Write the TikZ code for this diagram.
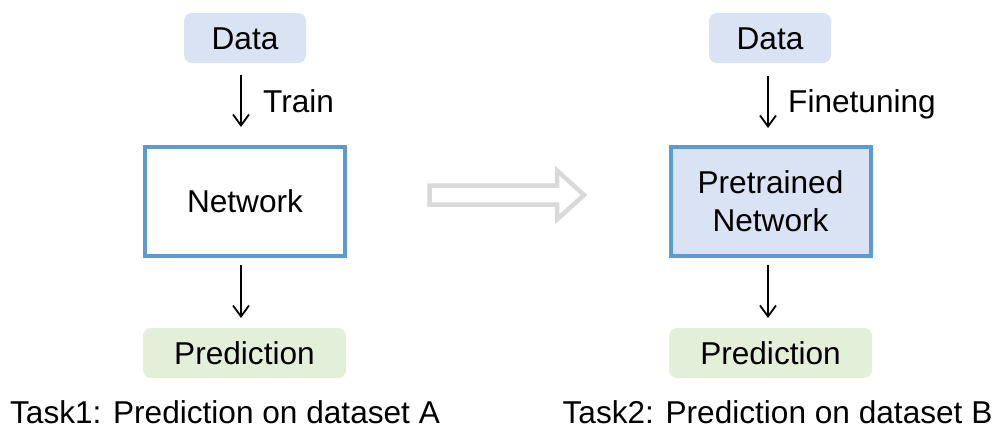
\documentclass[tikz,border=0pt]{standalone}
\usepackage{fontspec}
\setmainfont{Liberation Sans}
\usetikzlibrary{arrows.meta}
\definecolor{boxblue}{HTML}{DAE3F3}
\definecolor{boxgreen}{HTML}{E2F0D9}
\definecolor{edgeblue}{HTML}{5B9BD5}
\definecolor{hollowgray}{HTML}{D9D9D9}
\tikzset{
  txt/.style={font=\fontsize{31.6}{38}\selectfont, inner sep=0pt},
  databox/.style={txt, fill=boxblue, rounded corners=8pt, minimum width=122pt, minimum height=50pt, text height=22.6pt, text depth=0pt},
  predbox/.style={txt, fill=boxgreen, rounded corners=8pt, minimum width=203pt, minimum height=50pt, text height=22.6pt, text depth=0pt},
  netbox/.style={txt, draw=edgeblue, line width=4pt, minimum width=200pt, minimum height=109pt, align=center},
  flow/.style={-{Straight Barb[length=11pt,width=16pt,line width=1.8pt]}, line width=1.8pt, black},
}
\begin{document}
\begin{tikzpicture}[x=1pt,y=-1pt]
\useasboundingbox (0,0) rectangle (995,429);
% left column
\node[databox] (d1) at (245,38) {Data};
\node[netbox, text height=22.6pt, text depth=0pt] (n1) at (245,201.5) {Network};
\node[predbox] (p1) at (244.5,353) {Prediction};
\draw[flow] (241,75) -- (241,127) coordinate (a1e);
\node[txt, anchor=base west] (t1) at (263,112) {Train};
\draw[flow] (241,265) -- (241,318);
\node[txt, anchor=base] (c1) at (225,423.5) {Task1: Prediction on dataset A};
% right column
\node[databox] (d2) at (770,38) {Data};
\node[netbox, fill=boxblue] (n2) at (770.5,201) {\raisebox{0pt}{Pretrained}\\Network};
\node[predbox] (p2) at (770.5,353) {Prediction};
\draw[flow] (768,76) -- (768,128);
\node[txt, anchor=base west] (t2) at (788,112) {Finetuning};
\draw[flow] (768,265) -- (768,318);
\node[txt, anchor=base] (c2) at (777.5,423.5) {Task2: Prediction on dataset B};
% hollow arrow
\draw[hollowgray, line width=4.5pt, line join=miter]
  (429.5,185.5) -- (557,185.5) -- (557,170.5) -- (584,195) -- (557,219.5) -- (557,204.5) -- (429.5,204.5) -- cycle;
\end{tikzpicture}
\end{document}
